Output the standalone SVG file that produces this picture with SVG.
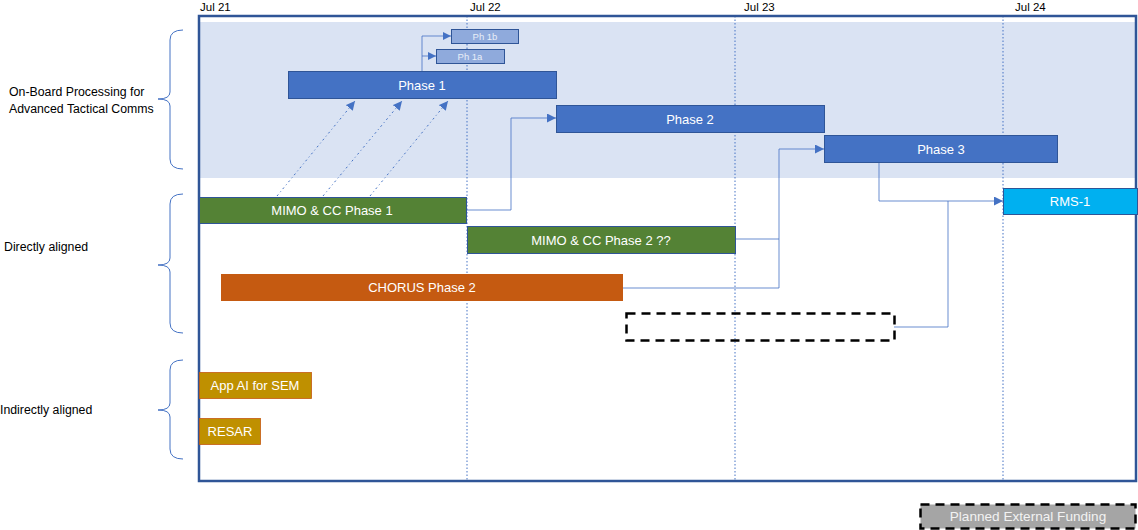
<svg xmlns="http://www.w3.org/2000/svg" width="1138" height="530" viewBox="0 0 1138 530">
<style>
text{font-family:"Liberation Sans",Arial,sans-serif}
.lbl{font-size:12.3px;fill:#000}
.date{font-size:11.5px;fill:#000}
.bt{font-size:13px;fill:#fff;text-anchor:middle}
.st{font-size:9.5px;fill:#E8EEF8;text-anchor:middle}
.blue{fill:#4472C4;stroke:#2F5597;stroke-width:1}
.lt{fill:#8FAADC;stroke:#2F5597;stroke-width:1}
.grn{fill:#548235;stroke:#2F5597;stroke-width:1}
.org{fill:#C55A11}
.gold{fill:#BF9000;stroke:#C55A11;stroke-width:0.8}
.cy{fill:#00B0F0;stroke:#2F5597;stroke-width:1}
.grid{stroke:#4472C4;stroke-width:1;stroke-dasharray:1.5 2}
.brace{fill:none;stroke:#4472C4;stroke-width:1}
.conn{fill:none;stroke:#4472C4;stroke-width:1;stroke-opacity:0.8}
.dia{fill:none;stroke:#4472C4;stroke-width:1;stroke-dasharray:2 3 1 3}
.dash{fill:none;stroke:#000;stroke-width:2.5;stroke-dasharray:9 6}
</style>
<defs>
<marker id="ah" viewBox="0 0 10 10" refX="10" refY="5" markerWidth="8" markerHeight="8" markerUnits="userSpaceOnUse" orient="auto">
<path d="M0,0 L10,5 L0,10 Z" fill="#4472C4"/>
</marker>
<marker id="ah2" viewBox="0 0 10 10" refX="10" refY="5" markerWidth="9" markerHeight="9" markerUnits="userSpaceOnUse" orient="auto">
<path d="M0,0 L10,5 L0,10 Z" fill="#4472C4"/>
</marker>
</defs>
<rect width="1138" height="530" fill="#fff"/>
<rect x="200" y="22" width="936" height="156" fill="#DAE3F3"/>
<g id="grid">
<line class="grid" x1="467" y1="16" x2="467" y2="481"/>
<line class="grid" x1="735" y1="16" x2="735" y2="481"/>
<line class="grid" x1="1003" y1="16" x2="1003" y2="481"/>
</g>
<rect x="199" y="16" width="937" height="465" fill="none" stroke="#2F5597" stroke-width="2.5"/>
<g id="dates">
<text class="date" x="200" y="11">Jul 21</text>
<text class="date" x="470" y="11">Jul 22</text>
<text class="date" x="744" y="11">Jul 23</text>
<text class="date" x="1015" y="11">Jul 24</text>
</g>
<g id="group-labels">
<path class="brace" d="M183,30 Q170,30 170,40 L170,92 Q170,99 158,99 Q170,99 170,106 L170,159 Q170,169 183,169"/>
<text class="lbl" x="9" y="96">On-Board Processing for</text>
<text class="lbl" x="9" y="113">Advanced Tactical Comms</text>
<path class="brace" d="M183,194 Q170,194 170,204 L170,258 Q170,265 158,265 Q170,265 170,272 L170,323 Q170,333 183,333"/>
<text class="lbl" x="4" y="251">Directly aligned</text>
<path class="brace" d="M183,360 Q170,360 170,370 L170,403 Q170,410 158,410 Q170,410 170,417 L170,449 Q170,459 183,459"/>
<text class="lbl" x="0" y="414">Indirectly aligned</text>
</g>
<g id="connectors">
<path class="conn" d="M422,71 V36 H451" marker-end="url(#ah)"/>
<path class="conn" d="M422,56 H436" marker-end="url(#ah)"/>
<path class="conn" d="M466,210 H511 V118 H556" marker-end="url(#ah2)"/>
<path class="conn" d="M735,239 H779 V149 H824" marker-end="url(#ah2)"/>
<path class="conn" d="M623,288 H779 V239"/>
<path class="conn" d="M879,162 V201 H1003" marker-end="url(#ah2)"/>
<path class="conn" d="M894,327 H948 V201"/>
<path class="dia" d="M277,196 L355,101" marker-end="url(#ah2)"/>
<path class="dia" d="M323,196 L402,101" marker-end="url(#ah2)"/>
<path class="dia" d="M370,196 L448,101" marker-end="url(#ah2)"/>
</g>
<g id="phase1"><rect class="blue" x="288.5" y="71.5" width="268" height="27"/><text class="bt" x="422" y="90">Phase 1</text></g>
<g id="ph1b"><rect class="lt" x="451.5" y="29.5" width="67" height="14"/><text class="st" x="485" y="40">Ph 1b</text></g>
<g id="ph1a"><rect class="lt" x="436.5" y="49.5" width="68" height="14"/><text class="st" x="470" y="60">Ph 1a</text></g>
<g id="phase2"><rect class="blue" x="556.5" y="105.5" width="268" height="27"/><text class="bt" x="690" y="124">Phase 2</text></g>
<g id="phase3"><rect class="blue" x="824.5" y="135.5" width="233" height="27"/><text class="bt" x="941" y="154">Phase 3</text></g>
<g id="rms1"><rect class="cy" x="1003.5" y="188.5" width="134" height="26"/><text class="bt" x="1070" y="206">RMS-1</text></g>
<g id="mimo1"><rect class="grn" x="199.5" y="197.5" width="267" height="26"/><text class="bt" x="332" y="215">MIMO &amp; CC Phase 1</text></g>
<g id="mimo2"><rect class="grn" x="467.5" y="226.5" width="268" height="27"/><text class="bt" x="601" y="245">MIMO &amp; CC Phase 2 ??</text></g>
<g id="chorus"><rect class="org" x="221" y="274" width="402" height="27"/><text class="bt" x="422" y="292">CHORUS Phase 2</text></g>
<g id="planned"><rect class="dash" x="626.5" y="313.5" width="268" height="27"/></g>
<g id="appai"><rect class="gold" x="199.5" y="372.5" width="112" height="26"/><text class="bt" x="255" y="390">App AI for SEM</text></g>
<g id="resar"><rect class="gold" x="199.5" y="418.5" width="61" height="26"/><text class="bt" x="230" y="436">RESAR</text></g>
<g id="legend"><rect x="920.5" y="504.5" width="215" height="24" fill="#A5A5A5" stroke="#000" stroke-width="2.5" stroke-dasharray="9 6"/><text class="bt" x="1028" y="521" style="font-size:13.6px;fill:#F2F2F2">Planned External Funding</text></g>
</svg>
